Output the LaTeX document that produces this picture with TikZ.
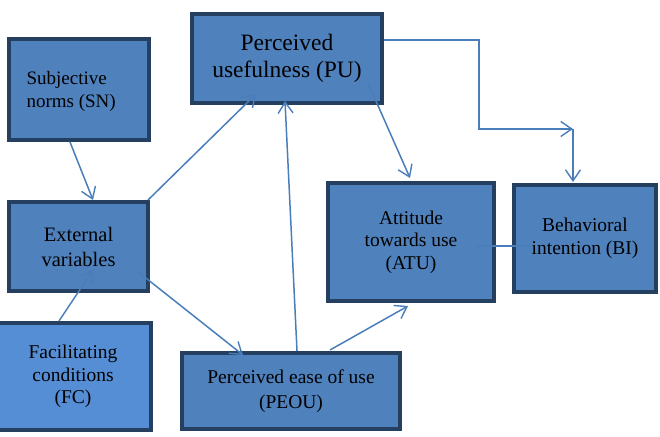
\documentclass[tikz,border=0pt]{standalone}
\usepackage{fontspec}
\setmainfont{Liberation Serif}
\newfontfamily\tnr{Liberation Serif}
\usetikzlibrary{arrows.meta}
\definecolor{boxfill}{HTML}{4F81BD}
\definecolor{boxfilllight}{HTML}{558ED5}
\definecolor{boxline}{HTML}{243F60}
\definecolor{conn}{HTML}{4A7EBB}
\begin{document}
\begin{tikzpicture}[x=1pt,y=-1pt,
  box/.style={draw=boxline,line width=4pt,fill=boxfill,inner sep=0pt,
    font=\tnr\fontsize{19.5}{22.5}\selectfont,align=center},
  arr/.style={draw=conn,line width=1.5pt,-{Straight Barb[length=11pt,width=15pt,line width=1.4pt]}},
  ln/.style={draw=conn,line width=1.5pt}]
\useasboundingbox (0,0) rectangle (660,436);
\node[box,minimum width=140pt,minimum height=101pt] (sn) at (79,89.5) {};
\node[font=\tnr\fontsize{19}{22.5}\selectfont,align=left,anchor=west] (sntext) at (23,91.5) {Subjective\\norms (SN)};
\node[box,minimum width=190pt,minimum height=89pt,font=\tnr\fontsize{23.5}{27}\selectfont] (pu) at (287,58.5) {Perceived\\usefulness (PU)};
\node[box,minimum width=139pt,minimum height=89pt,font=\tnr\fontsize{20.5}{25}\selectfont] (ev) at (78.5,246.5) {External\\variables};
\node[box,fill=boxfilllight,minimum width=156pt,minimum height=107pt] (fc) at (73,376.5) {Facilitating\\conditions\\(FC)};
\node[box,minimum width=218pt,minimum height=76pt,font=\tnr\fontsize{19.5}{25}\selectfont] (peou) at (291,391) {Perceived ease of use\\(PEOU)};
\node[box,minimum width=166pt,minimum height=118pt] (atu) at (411,242) {Attitude\\towards use\\(ATU)};
\node[box,minimum width=142pt,minimum height=107pt] (bi) at (585,238.5) {Behavioral\\intention (BI)};
% connectors
\coordinate (snA) at (70,142);
\coordinate (evA) at (93,200);
\draw[arr] (snA) -- (evA);
\coordinate (fcA) at (59,321);
\coordinate (evB) at (93,270);
\draw[arr] (fcA) -- (evB);
\coordinate (evC) at (148,200);
\coordinate (puA) at (256,94);
\draw[arr] (evC) -- (puA);
\coordinate (evD) at (137,271);
\coordinate (peouA) at (243,355);
\draw[arr] (evD) -- (peouA);
\coordinate (peouB) at (297,351);
\coordinate (puB) at (285,101);
\draw[arr] (peouB) -- (puB);
\coordinate (puC) at (368,83);
\coordinate (atuA) at (410,178);
\draw[arr] (puC) -- (atuA);
\coordinate (peouC) at (330,350);
\coordinate (atuB) at (408,306);
\draw[arr] (peouC) -- (atuB);
\coordinate (puD) at (384,40);
\coordinate (elbow) at (573,129);
\draw[arr] (puD) -- (479,40) -- (479,129) -- (elbow);
\coordinate (biA) at (573,182);
\draw[arr] (elbow) -- (biA);
\coordinate (atuC) at (477,246);
\coordinate (biB) at (530,246);
\draw[ln,line width=1.2pt] (atuC) -- (biB);
\end{tikzpicture}
\end{document}
